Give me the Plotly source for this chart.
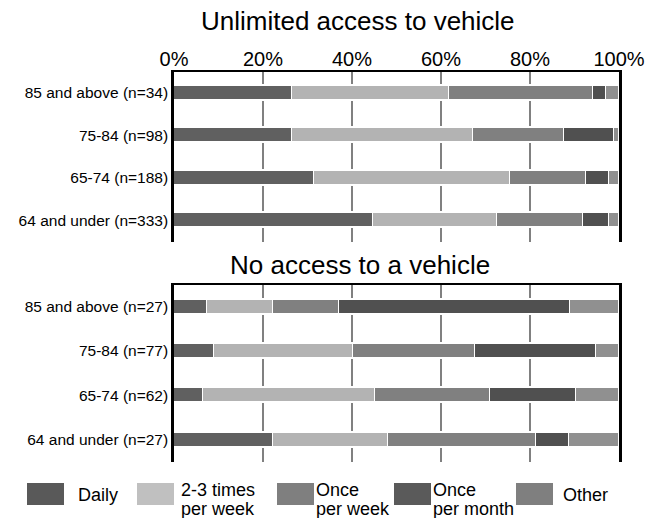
import plotly.graph_objects as go

# ---------------- data ----------------
series_names = ["Daily", "2-3 times<br>per week", "Once<br>per week", "Once<br>per month", "Other"]
series_colors = ["#606060", "#b3b3b3", "#808080", "#505050", "#909090"]

ages_unlimited = ["85 and above (n=34)", "75-84 (n=98)", "65-74 (n=188)", "64 and under (n=333)"]
unl_daily = [26.5, 26.5, 31.4, 44.7]
unl_23week = [35.3, 40.8, 44.1, 27.9]
unl_week = [32.4, 20.4, 17.0, 19.2]
unl_month = [2.9, 11.2, 5.3, 6.0]
unl_other = [2.9, 1.1, 2.2, 2.2]

ages_none = ["85 and above (n=27)", "75-84 (n=77)", "65-74 (n=62)", "64 and under (n=27)"]
none_daily = [7.4, 9.1, 6.5, 22.2]
none_23week = [14.8, 31.2, 38.7, 25.9]
none_week = [14.8, 27.3, 25.8, 33.3]
none_month = [51.9, 27.2, 19.4, 7.4]
none_other = [11.1, 5.2, 9.6, 11.2]

tick_vals = [0, 20, 40, 60, 80, 100]
tick_text = ["0%", "20%", "40%", "60%", "80%", "100%"]

title_top = "Unlimited access to vehicle"
title_bottom = "No access to a vehicle"

# ---------------- figure ----------------
W, H = 653, 518
FONT = "Liberation Sans, Arial, sans-serif"


def px(x):
    return x / W


def py(y):
    return 1 - y / H


unl = [unl_daily, unl_23week, unl_week, unl_month, unl_other]
none = [none_daily, none_23week, none_week, none_month, none_other]

fig = go.Figure()
for name, color, vals in zip(series_names, series_colors, unl):
    fig.add_trace(go.Bar(
        y=ages_unlimited, x=vals, orientation="h", name=name,
        marker=dict(color=color, line=dict(color="white", width=1.5)),
        width=0.36, xaxis="x", yaxis="y", showlegend=False, hoverinfo="x+y",
    ))
for name, color, vals in zip(series_names, series_colors, none):
    fig.add_trace(go.Bar(
        y=ages_none, x=vals, orientation="h", name=name,
        marker=dict(color=color, line=dict(color="white", width=1.5)),
        width=0.34, xaxis="x2", yaxis="y2", showlegend=False, hoverinfo="x+y",
    ))

xcommon = dict(
    range=[0, 100], side="top", tickvals=tick_vals, ticktext=tick_text,
    showgrid=True, gridcolor="#808080", gridwidth=2,
    showline=True, linecolor="black", linewidth=2,
    ticks="", zeroline=False, fixedrange=True, automargin=False,
    domain=[px(174), px(619)],
)
ycommon = dict(
    showline=True, mirror=True, linecolor="black", linewidth=2.5,
    ticks="", showgrid=False, zeroline=False, automargin=False,
    tickfont=dict(size=15.5, color="black", family=FONT),
    autorange="reversed", type="category", fixedrange=True,
)

fig.update_layout(
    width=W, height=H,
    margin=dict(l=0, r=0, t=0, b=0, autoexpand=False),
    paper_bgcolor="white", plot_bgcolor="white",
    barmode="stack", bargap=0,
    font=dict(family=FONT, color="black"),
    showlegend=False,
    xaxis=dict(**xcommon, anchor="y", ticklabelstandoff=-4,
               tickfont=dict(size=20, color="black", family=FONT)),
    xaxis2=dict(**xcommon, anchor="y2", showticklabels=False),
    yaxis=dict(**ycommon, anchor="x", domain=[py(241.5), py(71.5)],
               categoryarray=ages_unlimited),
    yaxis2=dict(**ycommon, anchor="x2", domain=[py(462), py(284.5)],
                categoryarray=ages_none),
)

annotations = [
    dict(text=title_top, x=px(358), y=py(21), xref="paper", yref="paper",
         showarrow=False, font=dict(size=26, color="black", family=FONT),
         xanchor="center", yanchor="middle"),
    dict(text=title_bottom, x=px(360), y=py(265), xref="paper", yref="paper",
         showarrow=False, font=dict(size=26, color="black", family=FONT),
         xanchor="center", yanchor="middle"),
]

# ---------------- custom legend ----------------
legend_colors = ["#595959", "#c0c0c0", "#7f7f7f", "#5a5a5a", "#7f7f7f"]
swatch_x = [27, 137, 277, 394, 516]
label_x = [77, 180, 315, 432, 562]
shapes = []
for sx, lx, name, color in zip(swatch_x, label_x, series_names, legend_colors):
    shapes.append(dict(type="rect", xref="paper", yref="paper",
                       x0=px(sx), x1=px(sx + 37), y0=py(505), y1=py(483),
                       fillcolor=color, line=dict(width=0)))
    lines = name.split("<br>")
    ys = [495] if len(lines) == 1 else [490, 509]
    for line, yy in zip(lines, ys):
        annotations.append(dict(
            text=line, x=px(lx), y=py(yy),
            xref="paper", yref="paper", showarrow=False, align="left",
            xanchor="left", yanchor="middle", xshift=-1,
            font=dict(size=18, color="black", family=FONT),
        ))

fig.update_layout(annotations=annotations, shapes=shapes)

fig.write_html(
    "out.html",
    config={"displayModeBar": False},
    post_script="document.body.style.margin='0px';document.body.style.overflow='hidden';",
)
